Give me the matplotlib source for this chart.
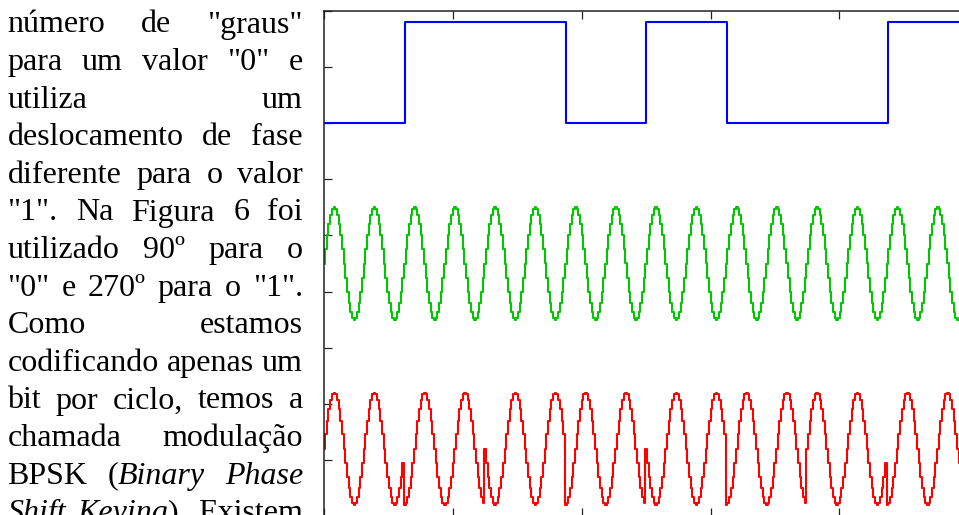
import numpy as np
import matplotlib
matplotlib.use('Agg')
import matplotlib.pyplot as plt
import matplotlib.transforms as mtransforms

## scanned page: justified paragraph on the left, BPSK figure on the right
## (the figure is cut off at the right and bottom edges of the page)

###############################################################################
##                                   Data                                    ##
###############################################################################

bits = [0, 1, 1, 0, 1, 0, 0, 1]
# delay of the red carrier inside each bit (degrees), read from the peak positions
red_phase_deg = [0, 90, 180, 90, 180, 90, 0, 90]
cycles_per_bit = 2
bit_time = 0.125

blue_levels = [7.0, 8.8]     # y of a "0" and of a "1"
green_center = 4.5
red_center = 1.2
amplitude = 1.0

x_ticks = [0.0, 0.2, 0.4, 0.6, 0.8, 1.0]
y_ticks = list(range(10))

# '*' toggles italic
text_lines = [
    'número de "graus"',
    'para um valor "0" e',
    'utiliza um',
    'deslocamento de fase',
    'diferente para o valor',
    '"1". Na Figura 6 foi',
    'utilizado 90º para o',
    '"0" e 270º para o "1".',
    'Como estamos',
    'codificando apenas um',
    'bit por ciclo, temos a',
    'chamada modulação',
    'BPSK (*Binary* *Phase*',
    '*Shift* *Keying*). Existem',
]

###############################################################################
##                                   Style                                   ##
###############################################################################

W, H = 959, 515
SAMPLES_PER_BIT = 48
LW = 1.5
FONT = 'Liberation Serif'
FONTSIZE = 23.0
TEXT_LEFT, TEXT_RIGHT = 7.5, 303.0
BASE0, LEADING = 32.5, 37.6

fig = plt.figure(figsize=(W / 100, H / 100), dpi=100)
fig.patch.set_facecolor('white')
renderer = fig.canvas.get_renderer()
px = mtransforms.IdentityTransform()

###############################################################################
##                         Justified paragraph text                          ##
###############################################################################

for i, line in enumerate(text_lines):
    y = H - (BASE0 + i * LEADING)
    words = []
    for word in line.split(' '):
        segs = []
        for j, part in enumerate(word.split('*')):
            if part == '':
                continue
            t = fig.text(0, y, part, transform=px, fontfamily=FONT, fontsize=FONTSIZE,
                         fontstyle='italic' if j % 2 else 'normal',
                         ha='left', va='baseline', color='black')
            segs.append((t, t.get_window_extent(renderer).width))
        words.append(segs)
    widths = [sum(w for _, w in segs) for segs in words]
    gap = (TEXT_RIGHT - TEXT_LEFT - sum(widths)) / max(len(words) - 1, 1)
    x = TEXT_LEFT
    for segs, ww in zip(words, widths):
        xs = x
        for t, w in segs:
            t.set_x(xs)
            xs += w
        x += ww + gap

###############################################################################
##                                 The plot                                  ##
###############################################################################

ax = fig.add_axes([324.3 / W, (H - 516) / H, 643.75 / W, 505 / H])

t_edges = np.arange(len(bits) + 1) * bit_time
blue_y = [blue_levels[b] for b in bits] + [blue_levels[bits[-1]]]
ax.step(t_edges, blue_y, where='post', color='#0000ff', lw=LW)

k = np.arange(len(bits) * SAMPLES_PER_BIT + 1)
t = k * bit_time / SAMPLES_PER_BIT
bit_idx = np.minimum(k // SAMPLES_PER_BIT, len(bits) - 1)
theta = 2 * np.pi * cycles_per_bit * t / bit_time
green = green_center + amplitude * np.sin(theta)
red = red_center + amplitude * np.sin(theta - np.deg2rad(np.array(red_phase_deg)[bit_idx]))

ax.plot(t, green, drawstyle='steps-mid', color='#00c800', lw=LW)
ax.plot(t, red, drawstyle='steps-mid', color='#ff0000', lw=LW)

ax.set_xlim(0, 1)
ax.set_ylim(0, 9)
ax.set_xticks(x_ticks)
ax.set_yticks(y_ticks)
ax.tick_params(direction='in', top=True, bottom=True, left=True, right=False,
               labelleft=False, labelbottom=False, length=5.5, width=0.9, color='#222222')
for s in ax.spines.values():
    s.set_linewidth(1.1)
    s.set_color('#222222')

plt.savefig('out.png', dpi=100, facecolor='white')
